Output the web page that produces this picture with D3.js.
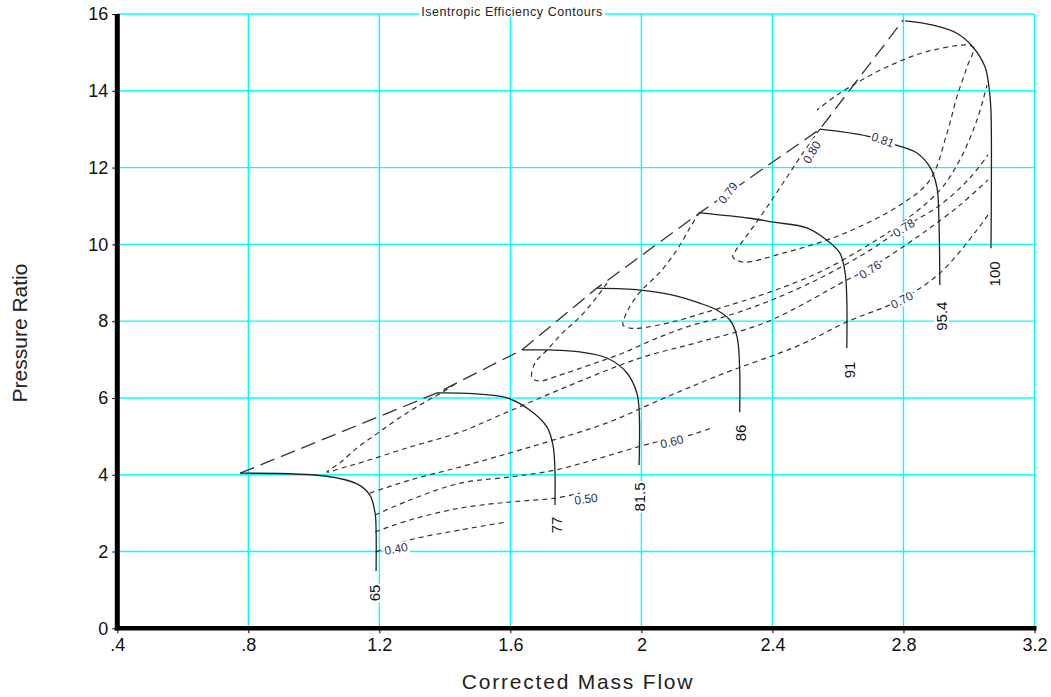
<!DOCTYPE html>
<html>
<head>
<meta charset="utf-8">
<script src="https://cdn.jsdelivr.net/npm/d3@7"></script>
<style>
  body { margin: 0; background: #fff; }
  svg { display: block; font-family: "Liberation Sans", Arial, sans-serif; }
</style>
</head>
<body>
<div id="chart"></div>
<script>
// ---- data: [corrected mass flow, pressure ratio] ----
const xTicks = [0.4, 0.8, 1.2, 1.6, 2.0, 2.4, 2.8, 3.2];
const xTickLabels = [".4", ".8", "1.2", "1.6", "2", "2.4", "2.8", "3.2"];
const yTicks = [0, 2, 4, 6, 8, 10, 12, 14, 16];

// speed lines (solid)
const speedNames = ["65", "77", "81.5", "86", "91", "95.4", "100"];
const speed65 = [[0.775, 4.04], [1.040, 3.96], [1.132, 3.76], [1.171, 3.47], [1.187, 3.00], [1.190, 2.56], [1.190, 1.49]];
const speed77 = [[1.376, 6.13], [1.486, 6.11], [1.590, 6.00], [1.660, 5.68], [1.712, 5.24], [1.730, 4.77], [1.736, 4.12], [1.736, 3.21]];
const speed815 = [[1.635, 7.25], [1.721, 7.25], [1.812, 7.20], [1.895, 7.04], [1.956, 6.65], [1.986, 6.13], [1.993, 5.68], [1.993, 4.25]];
const speed86 = [[1.864, 8.86], [1.996, 8.81], [2.096, 8.68], [2.178, 8.47], [2.230, 8.29], [2.270, 8.03], [2.292, 7.59], [2.300, 6.73], [2.300, 5.63]];
const speed91 = [[2.178, 10.82], [2.331, 10.68], [2.402, 10.58], [2.505, 10.43], [2.566, 10.11], [2.606, 9.77], [2.622, 9.25], [2.627, 8.55], [2.627, 7.30]];
const speed954 = [[2.545, 13.00], [2.689, 12.82], [2.780, 12.58], [2.841, 12.38], [2.881, 12.01], [2.902, 11.49], [2.908, 10.71], [2.911, 8.94]];
const speed100 = [[2.805, 15.82], [2.890, 15.71], [2.963, 15.50], [3.012, 15.14], [3.049, 14.62], [3.061, 14.10], [3.067, 13.50], [3.067, 9.90]];
const speedLabelAt = [[1.187, 0.92], [1.742, 2.69], [1.996, 3.42], [2.302, 5.09], [2.636, 6.73], [2.917, 8.13], [3.080, 9.23]];

// surge line (long dash)
const surge = [[0.775, 4.04], [1.376, 6.13], [1.635, 7.25], [1.864, 8.86], [2.178, 10.82], [2.545, 13.00], [2.799, 15.84]];

// isentropic efficiency contours (short dash)
const eff040 = [[1.190, 1.99], [1.293, 2.30], [1.446, 2.56], [1.590, 2.77]];
const eff050 = [[1.187, 2.51], [1.293, 2.82], [1.446, 3.13], [1.599, 3.29], [1.736, 3.39], [1.812, 3.52]];
const eff060 = [[1.187, 2.95], [1.293, 3.34], [1.446, 3.78], [1.599, 3.94], [1.736, 4.12], [1.852, 4.38], [2.035, 4.83], [2.148, 5.03], [2.215, 5.22]];
const eff070 = [[1.171, 3.52], [1.293, 3.86], [1.446, 4.20], [1.599, 4.57], [1.730, 4.90], [1.895, 5.35], [2.057, 5.95], [2.240, 6.60],
  [2.484, 7.38], [2.627, 7.98], [2.789, 8.55], [2.911, 9.25], [3.024, 10.37], [3.058, 10.77]];
const eff076 = [[1.431, 6.36], [1.394, 6.16], [1.284, 5.61], [1.196, 5.09], [1.132, 4.70], [1.080, 4.31], [1.040, 4.07], [1.095, 4.20],
  [1.141, 4.31], [1.293, 4.72], [1.446, 5.11], [1.590, 5.63], [1.791, 6.36], [1.996, 7.04], [2.178, 7.46], [2.383, 7.98],
  [2.627, 9.07], [2.698, 9.38], [2.850, 10.24], [2.972, 11.02], [3.058, 11.68]];
const eff078 = [[1.895, 8.99], [1.864, 8.63], [1.812, 8.11], [1.760, 7.70], [1.712, 7.25], [1.675, 6.91], [1.666, 6.52], [1.690, 6.44],
  [1.742, 6.57], [1.843, 6.86], [1.944, 7.17], [2.048, 7.56], [2.157, 7.90], [2.240, 8.08], [2.383, 8.50], [2.545, 9.12],
  [2.698, 9.85], [2.798, 10.43], [2.911, 11.02], [3.003, 11.73], [3.058, 12.33]];
const eff079 = [[2.178, 10.84], [2.148, 10.43], [2.108, 9.85], [2.057, 9.28], [1.996, 8.76], [1.959, 8.29], [1.944, 7.90], [1.965, 7.82],
  [1.996, 7.82], [2.096, 7.98], [2.200, 8.24], [2.240, 8.34], [2.383, 8.73], [2.545, 9.28], [2.698, 10.01], [2.798, 10.58],
  [2.911, 11.41], [2.972, 12.20], [3.024, 13.23], [3.055, 14.15]];
const eff080 = [[2.545, 13.00], [2.493, 12.38], [2.438, 11.67], [2.377, 10.89], [2.316, 10.16], [2.285, 9.80], [2.279, 9.67], [2.310, 9.54],
  [2.432, 9.77], [2.606, 10.24], [2.789, 11.02], [2.881, 11.68], [2.933, 12.90], [2.963, 13.84], [2.994, 14.62], [3.012, 15.14],
  [2.890, 15.06], [2.749, 14.62], [2.606, 13.94], [2.536, 13.50]];

const effNames = ["0.40", "0.50", "0.60", "0.70", "0.76", "0.78", "0.79", "0.80", "0.81"];
const effLabelAt = [[1.251, 2.07], [1.831, 3.37], [2.093, 4.86], [2.795, 8.55], [2.698, 9.34], [2.801, 10.43], [2.264, 11.34], [2.520, 12.40], [2.737, 12.72]];
const effLabelAngle = [-10, -8, -14, -28, -32, -33, -52, -60, 20];

// ---- chart ----
const width = 1051, height = 697;
const margin = { top: 14, right: 16.5, bottom: 68.7, left: 117.3 };

const svg = d3.select("#chart").append("svg")
  .attr("width", width).attr("height", height);

const x = d3.scaleLinear([0.4, 3.2], [margin.left, width - margin.right]);
const y = d3.scaleLinear([0, 16], [height - margin.bottom, margin.top]);

// grid
const grid = svg.append("g").attr("stroke", "#00ffff").attr("stroke-width", 1.4);
grid.selectAll("line.v").data(xTicks.slice(1)).join("line").attr("class", "v")
  .attr("x1", d => x(d)).attr("x2", d => x(d))
  .attr("y1", y(0)).attr("y2", y(16));
grid.selectAll("line.h").data(yTicks.slice(1)).join("line").attr("class", "h")
  .attr("x1", x(0.4)).attr("x2", x(3.2))
  .attr("y1", d => y(d)).attr("y2", d => y(d));

// axes
const axisX = svg.append("g").attr("transform", `translate(0,${y(0)})`)
  .call(d3.axisBottom(x).tickValues(xTicks).tickFormat((d, i) => xTickLabels[i]).tickSize(5).tickSizeOuter(0));
axisX.select(".domain").remove();
axisX.selectAll("text").attr("dy", null).attr("y", 23)
  .attr("font-size", 18).attr("font-family", "Liberation Sans, Arial, sans-serif").attr("fill", "#111");

const axisY = svg.append("g").attr("transform", `translate(${x(0.4)},0)`)
  .call(d3.axisLeft(y).tickValues(yTicks).tickSize(5).tickSizeOuter(0).tickPadding(4));
axisY.select(".domain").remove();
axisY.selectAll("text")
  .attr("font-size", 18).attr("font-family", "Liberation Sans, Arial, sans-serif").attr("fill", "#111");

svg.append("line")
  .attr("x1", x(0.4)).attr("x2", x(0.4)).attr("y1", y(16)).attr("y2", y(0) + 2)
  .attr("stroke", "#000").attr("stroke-width", 5);
svg.append("line")
  .attr("x1", x(0.4) - 2.5).attr("x2", x(3.2) + 2).attr("y1", y(0)).attr("y2", y(0))
  .attr("stroke", "#000").attr("stroke-width", 4.5);

// curves
const smooth = d3.line().x(d => x(d[0])).y(d => y(d[1])).curve(d3.curveCatmullRom.alpha(0.5));
const straight = d3.line().x(d => x(d[0])).y(d => y(d[1]));

const marks = svg.append("g").attr("fill", "none");

marks.selectAll("path.eff")
  .data([eff040, eff050, eff060, eff070, eff076, eff078, eff079, eff080])
  .join("path").attr("class", "eff")
  .attr("d", smooth)
  .attr("stroke", "#333").attr("stroke-width", 1.2).attr("stroke-dasharray", "5,4");

marks.append("path").datum(surge)
  .attr("d", straight)
  .attr("stroke", "#333").attr("stroke-width", 1.3).attr("stroke-dasharray", "15,7");

marks.selectAll("path.speed")
  .data([speed65, speed77, speed815, speed86, speed91, speed954, speed100])
  .join("path").attr("class", "speed")
  .attr("d", smooth)
  .attr("stroke", "#222").attr("stroke-width", 1.3);

// labels with white boxes behind them
function boxLabel(g, text, size, fill) {
  const t = g.append("text").text(text)
    .attr("text-anchor", "middle").attr("dy", "0.35em")
    .attr("font-size", size).attr("fill", fill);
  const b = t.node().getBBox();
  g.insert("rect", "text")
    .attr("x", b.x - 1).attr("y", b.y + 1).attr("width", b.width + 2).attr("height", b.height - 2)
    .attr("fill", "#fff");
}

speedNames.forEach((name, i) => {
  const p = speedLabelAt[i];
  const g = svg.append("g").attr("transform", `translate(${x(p[0])},${y(p[1])}) rotate(-90)`);
  boxLabel(g, name, 15, "#111");
});

effNames.forEach((name, i) => {
  const p = effLabelAt[i];
  const g = svg.append("g").attr("transform", `translate(${x(p[0])},${y(p[1])}) rotate(${effLabelAngle[i]})`);
  boxLabel(g, name, 12, "#2a3058");
});

// titles
const title = svg.append("g").attr("transform", `translate(512,${y(16)})`);
const tt = title.append("text").text("Isentropic Efficiency Contours")
  .attr("text-anchor", "middle").attr("y", 2)
  .attr("font-size", 12.5).attr("letter-spacing", "0.55px").attr("fill", "#222");
const tb = tt.node().getBBox();
title.insert("rect", "text").attr("x", tb.x - 2).attr("y", -3).attr("width", tb.width + 4).attr("height", 6).attr("fill", "#fff");

svg.append("text").text("Pressure Ratio")
  .attr("transform", `translate(27,333) rotate(-90)`)
  .attr("text-anchor", "middle").attr("font-size", 21).attr("fill", "#222");

svg.append("text").text("Corrected Mass Flow")
  .attr("x", 578).attr("y", 689)
  .attr("text-anchor", "middle").attr("font-size", 21).attr("letter-spacing", "1.8px").attr("fill", "#222");
</script>
</body>
</html>
